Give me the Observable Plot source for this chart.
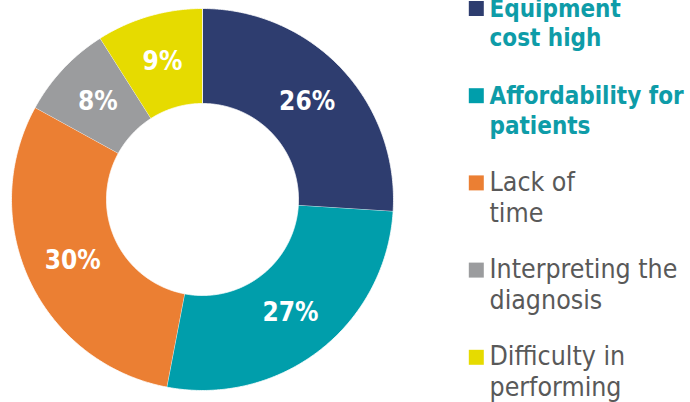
<!DOCTYPE html>
<html><head><meta charset="utf-8">
<script src="https://cdn.jsdelivr.net/npm/d3@7"></script>
<script src="https://cdn.jsdelivr.net/npm/@observablehq/plot@0.6"></script>
<style>html,body{margin:0;padding:0;background:#fff;overflow:hidden}</style>
</head><body><div id="chart"></div>
<script>
// ---- data ----
const categories = ["Equipment cost high", "Affordability for patients", "Lack of time", "Interpreting the diagnosis", "Difficulty in performing"];
const values = [26, 27, 30, 8, 9];
const legendLabels = ["Equipment\ncost high", "Affordability for\npatients", "Lack of\ntime", "Interpreting the\ndiagnosis", "Difficulty in\nperforming"];
const legendBold = [true, true, false, false, false];
const palette = ["#2E3D6F", "#009EAB", "#EB7F33", "#9B9C9E", "#E6DB00"];

// ---- layout ----
const W = 690, H = 402, cx = 202, cy = 199, rOuter = 191, rInner = 96;
const FONT = "'DejaVu Sans Condensed', 'DejaVu Sans', sans-serif";

const slices = d3.pie().sort(null).value(d => d.value)(categories.map((c, i) => ({category: c, value: values[i]})));
const pt = (a, r) => [cx + r * Math.sin(a), cy - r * Math.cos(a)];
const ring = [];
slices.forEach(s => {
  const n = Math.max(2, Math.ceil((s.endAngle - s.startAngle) / (Math.PI / 360)));
  for (let k = 0; k <= n; k++) {
    const [x, y] = pt(s.startAngle + (s.endAngle - s.startAngle) * k / n, rOuter);
    ring.push({category: s.data.category, x, y});
  }
  for (let k = n; k >= 0; k--) {
    const [x, y] = pt(s.startAngle + (s.endAngle - s.startAngle) * k / n, rInner);
    ring.push({category: s.data.category, x, y});
  }
});
const labels = slices.map(s => {
  const [x, y] = pt((s.startAngle + s.endAngle) / 2, (rOuter + rInner) / 2);
  return {x, y, text: s.data.value + "%"};
});

const legend = categories.map((c, i) => ({category: c, label: legendLabels[i], bold: legendBold[i], base: 16 + i * 87.2}));
const fsB = 24, lhB = 30 / fsB, fsR = 26.5, lhR = 31 / fsR;

const chart = Plot.plot({
  width: W, height: H, margin: 0,
  x: {type: "identity", axis: null},
  y: {type: "identity", axis: null},
  color: {domain: categories, range: palette},
  style: {fontFamily: FONT, background: "white"},
  marks: [
    Plot.line(ring, {x: "x", y: "y", z: "category", fill: "category", stroke: "white", strokeWidth: 0.8, curve: "linear"}),
    Plot.text(labels, {x: "x", y: "y", text: "text", fill: "white", fontSize: 26, fontWeight: "bold", fontFamily: FONT}),
    Plot.dot(legend, {x: () => 475.8, y: d => d.base - 8, symbol: "square", r: 8.46, fill: "category", stroke: null}),
    Plot.text(legend.filter(d => d.bold), {x: () => 489, y: d => d.base - 0.71 * lhB * fsB, text: "label", textAnchor: "start", lineAnchor: "top", lineHeight: lhB, fontSize: fsB, fontWeight: "bold", fill: "#0E9CA8", fontFamily: FONT}),
    Plot.text(legend.filter(d => !d.bold), {x: () => 489, y: d => d.base - 0.71 * lhR * fsR, text: "label", textAnchor: "start", lineAnchor: "top", lineHeight: lhR, fontSize: fsR, fill: "#595959", fontFamily: FONT})
  ]
});
document.getElementById("chart").appendChild(chart);
</script>
</body></html>
